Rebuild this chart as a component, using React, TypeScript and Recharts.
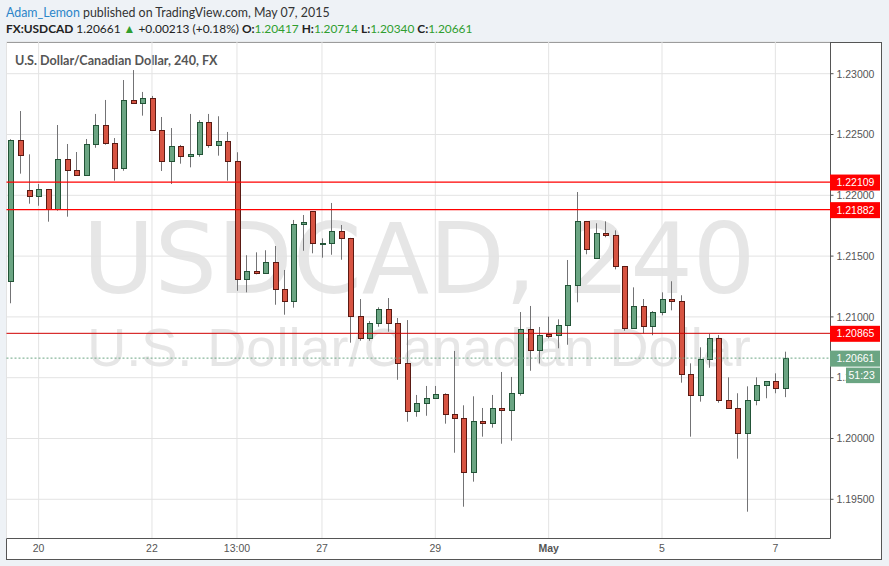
import React from 'react';
import { ComposedChart, Bar, XAxis, YAxis, CartesianGrid, ReferenceLine } from 'recharts';

// 4-hour USDCAD candles (Apr 17 – May 7, 2015)
const openP = [
  1.21295, 1.22452, 1.22044, 1.21992, 1.22049, 1.21885, 1.22296, 1.22206, 1.22164, 1.22419,
  1.22576, 1.22428, 1.22222, 1.22781, 1.22762, 1.22798, 1.22535, 1.22280, 1.22403, 1.22321,
  1.22337, 1.22600, 1.22411, 1.22444, 1.22280, 1.21309, 1.21375, 1.21359, 1.21449, 1.21227,
  1.21128, 1.21761, 1.21868, 1.21603, 1.21605, 1.21704, 1.21646, 1.21005, 1.20824, 1.20947,
  1.21062, 1.20947, 1.20618, 1.20224, 1.20289, 1.20331, 1.20363, 1.20199, 1.20166, 1.19722,
  1.20141, 1.20125, 1.20248, 1.20232, 1.20372, 1.20898, 1.20725, 1.20858, 1.20849, 1.20931,
  1.21260, 1.21786, 1.21482, 1.21687, 1.21671, 1.21416, 1.20906, 1.21087, 1.20923, 1.21038,
  1.21145, 1.21128, 1.20528, 1.20355, 1.20651, 1.20824, 1.20314, 1.20248, 1.20043, 1.20314,
  1.20437, 1.20470, 1.20417,
];
const highP = [
  1.22461, 1.22693, 1.22337, 1.22093, 1.22052, 1.22578, 1.22422, 1.22356, 1.22463, 1.22669,
  1.22784, 1.22471, 1.22948, 1.23030, 1.22850, 1.22817, 1.22644, 1.22553, 1.22414, 1.22669,
  1.22617, 1.22669, 1.22650, 1.22521, 1.22354, 1.21507, 1.21531, 1.21548, 1.21583, 1.21386,
  1.21797, 1.21838, 1.21870, 1.21646, 1.21937, 1.21756, 1.21650, 1.21147, 1.20966, 1.21079,
  1.21155, 1.20991, 1.20974, 1.20358, 1.20432, 1.20432, 1.20372, 1.20720, 1.20273, 1.20347,
  1.20251, 1.20358, 1.20547, 1.20506, 1.21040, 1.21090, 1.20917, 1.21002, 1.20980, 1.21468,
  1.22027, 1.21789, 1.21770, 1.21786, 1.21712, 1.21419, 1.21243, 1.21147, 1.21048, 1.21202,
  1.21293, 1.21178, 1.20618, 1.20750, 1.20859, 1.20851, 1.20503, 1.20372, 1.20429, 1.20503,
  1.20473, 1.20536, 1.20714,
];
const lowP = [
  1.21112, 1.22178, 1.21931, 1.21914, 1.21783, 1.21873, 1.21824, 1.22160, 1.22160, 1.22391,
  1.22416, 1.22120, 1.22202, 1.22760, 1.22655, 1.22530, 1.22200, 1.22093, 1.22260, 1.22230,
  1.22317, 1.22391, 1.22326, 1.22120, 1.21215, 1.21202, 1.21350, 1.21355, 1.21100, 1.21018,
  1.21076, 1.21544, 1.21523, 1.21487, 1.21511, 1.21470, 1.20788, 1.20804, 1.20804, 1.20919,
  1.20878, 1.20483, 1.20138, 1.20179, 1.20187, 1.20328, 1.20122, 1.19883, 1.19439, 1.19645,
  1.20015, 1.20089, 1.19957, 1.19982, 1.20352, 1.20557, 1.20617, 1.20824, 1.20742, 1.20771,
  1.21120, 1.21515, 1.21480, 1.21655, 1.21391, 1.20886, 1.20904, 1.20865, 1.20849, 1.21013,
  1.21054, 1.20459, 1.20015, 1.20303, 1.20582, 1.20294, 1.20246, 1.19834, 1.19398, 1.20273,
  1.20331, 1.20372, 1.20340,
];
const closeP = [
  1.22452, 1.22329, 1.21992, 1.22049, 1.21885, 1.22296, 1.22206, 1.22164, 1.22419, 1.22576,
  1.22428, 1.22222, 1.22781, 1.22762, 1.22798, 1.22535, 1.22280, 1.22403, 1.22321, 1.22337,
  1.22600, 1.22411, 1.22444, 1.22280, 1.21309, 1.21375, 1.21359, 1.21449, 1.21227, 1.21128,
  1.21761, 1.21778, 1.21605, 1.21608, 1.21704, 1.21646, 1.21005, 1.20824, 1.20947, 1.21062,
  1.20947, 1.20618, 1.20224, 1.20289, 1.20331, 1.20363, 1.20199, 1.20166, 1.19722, 1.20141,
  1.20125, 1.20248, 1.20232, 1.20372, 1.20898, 1.20725, 1.20849, 1.20845, 1.20931, 1.21260,
  1.21786, 1.21556, 1.21687, 1.21671, 1.21416, 1.20906, 1.21087, 1.20923, 1.21038, 1.21145,
  1.21128, 1.20528, 1.20355, 1.20651, 1.20824, 1.20314, 1.20248, 1.20043, 1.20314, 1.20437,
  1.20470, 1.20413, 1.20661,
];

const timeTickIndex = [3, 15, 24, 33, 45, 57, 69, 81];
const timeTickLabels = ['20', '22', '13:00', '27', '29', 'May', '5', '7'];
const boldTimeLabels = ['May'];
const priceTicks = [1.195, 1.2, 1.205, 1.21, 1.215, 1.22, 1.225, 1.23];
const redLevels = [1.22109, 1.21882];
const pivotLevel = 1.20865;
const lastPrice = 1.20661;
const countdown = '51:23';

const symbol = 'FX:USDCAD';
const lastText = '1.20661';
const changeText = '+0.00213 (+0.18%)';
const ohlcLabels = ['O:', 'H:', 'L:', 'C:'];
const ohlcValues = ['1.20417', '1.20714', '1.20340', '1.20661'];

const X_DOMAIN: [number, number] = [-0.4, 86.84];
const Y_DOMAIN: [number, number] = [1.191776, 1.232607];

const data = openP.map((o, i) => ({
  i,
  o,
  h: highP[i],
  l: lowP[i],
  c: closeP[i],
  range: [lowP[i], highP[i]],
}));

const AXIS_FONT = '"Liberation Sans", Arial, sans-serif';
const UI_FONT = 'Lato, "Open Sans", sans-serif';

const Candle = (props: any) => {
  const { x, y, width, height, payload } = props;
  if (x == null || y == null || !payload) return null;
  const top = Math.min(y, y + height);
  const hh = Math.abs(height);
  const { o, h, l, c } = payload;
  const cx = Math.round(x + width / 2 - 0.5) + 0.5;
  const py = (v: number) => (h === l ? top : top + ((h - v) / (h - l)) * hh);
  const yo = py(o);
  const yc = py(c);
  const up = c >= o;
  const bt = Math.round(Math.min(yo, yc)) + 0.5;
  let bb = Math.round(Math.max(yo, yc)) + 0.5;
  if (bb - bt < 1) bb = bt + 1;
  return (
    <g>
      <line x1={cx} x2={cx} y1={top} y2={top + hh} stroke="#737375" strokeWidth={1} />
      <rect
        x={cx - 2}
        y={bt}
        width={5}
        height={bb - bt}
        fill={up ? '#6ba583' : '#d75442'}
        stroke={up ? '#225437' : '#5b1a13'}
        strokeWidth={1}
      />
    </g>
  );
};

const XTick = (props: any) => {
  const { x, y, payload } = props;
  const idx = timeTickIndex.indexOf(payload.value);
  const label = idx >= 0 ? timeTickLabels[idx] : '';
  const bold = boldTimeLabels.includes(label);
  return (
    <text
      x={x}
      y={y + 11.5}
      textAnchor="middle"
      fontFamily={AXIS_FONT}
      fontSize={10.5}
      fontWeight={bold ? 'bold' : 'normal'}
      fill="#555"
    >
      {label}
    </text>
  );
};

const YTick = (props: any) => {
  const { x, y, payload } = props;
  return (
    <text x={x} y={y + 3.8} textAnchor="start" fontFamily={AXIS_FONT} fontSize={10.5} fill="#555">
      {Number(payload.value).toFixed(5)}
    </text>
  );
};

const PriceTag = ({ viewBox, value, bg, extra }: any) => {
  if (!viewBox) return null;
  const right = viewBox.x + viewBox.width;
  const ly = viewBox.y;
  return (
    <g>
      <rect x={right - 0.5} y={ly - 7.5} width={50} height={16} fill={bg} />
      <text x={right + 6} y={ly + 3.9} fontFamily={AXIS_FONT} fontSize={10.5} fill="#ffffff">
        {value.toFixed(5)}
      </text>
      {extra ? (
        <g>
          <rect x={right + 15.5} y={ly + 9.5} width={34} height={15.5} fill={bg} />
          <text x={right + 18} y={ly + 21} fontFamily={AXIS_FONT} fontSize={10.5} fill="#ffffff">
            {extra}
          </text>
        </g>
      ) : null}
    </g>
  );
};

export default function App() {
  const green = '#2f9e2f';
  return (
    <div
      style={{
        position: 'fixed',
        left: 0,
        top: 0,
        width: 889,
        height: 566,
        background: '#eef2f6',
        overflow: 'hidden',
      }}
    >
      <svg width={889} height={42} style={{ position: 'absolute', left: 0, top: 0 }}>
        <text x={6} y={16.7} fontFamily={UI_FONT} fontSize={12.4} fill="#333" style={{ whiteSpace: 'pre' }}>
          <tspan fill="#2b85c9">Adam_Lemon</tspan>
          <tspan>{' published on TradingView.com, May 07, 2015'}</tspan>
        </text>
        <text x={6} y={33.3} fontFamily={UI_FONT} fontSize={11.9} fill="#222" style={{ whiteSpace: 'pre' }}>
          <tspan fontWeight="bold">{symbol}</tspan>
          <tspan>{' ' + lastText + ' '}</tspan>
          <tspan fill={green}>▲</tspan>
          <tspan>{' ' + changeText + ' '}</tspan>
          {ohlcLabels.map((lab, k) => (
            <React.Fragment key={lab}>
              <tspan fontWeight="bold">{(k > 0 ? ' ' : '') + lab}</tspan>
              <tspan fill={green}>{ohlcValues[k]}</tspan>
            </React.Fragment>
          ))}
        </text>
      </svg>

      <div
        style={{
          position: 'absolute',
          left: 6,
          top: 42,
          width: 876,
          height: 518,
          boxSizing: 'border-box',
          border: '1px solid #555',
          background: '#ffffff',
        }}
      />

      <svg width={889} height={566} style={{ position: 'absolute', left: 0, top: 0 }}>
        <text
          x={419}
          y={293}
          textAnchor="middle"
          fontFamily='"DejaVu Sans", sans-serif'
          fontSize={98.5}
          fill="#e6e6e6"
        >
          USDCAD, 240
        </text>
        <text x={419} y={365.5} textAnchor="middle" fontFamily={AXIS_FONT} fontSize={54} fill="#e6e6e6">
          U.S. Dollar/Canadian Dollar
        </text>
        <text x={15} y={65} fontFamily={UI_FONT} fontSize={12.6} fontWeight="bold" fill="#555">
          U.S. Dollar/Canadian Dollar, 240, FX
        </text>
      </svg>

      {/* main chart: grid, axes, candles */}
      <div style={{ position: 'absolute', left: 0, top: 0 }}>
        <ComposedChart width={889} height={566} data={data} margin={{ top: 42, left: 6.5, right: 0, bottom: 0 }}>
          <CartesianGrid stroke="#e3e3e3" strokeWidth={1} />
          <XAxis
            type="number"
            dataKey="i"
            domain={X_DOMAIN}
            allowDataOverflow
            ticks={timeTickIndex}
            interval={0}
            tick={<XTick />}
            tickLine={false}
            tickSize={0}
            axisLine={{ stroke: '#555' }}
            height={27.5}
          />
          <YAxis
            orientation="right"
            type="number"
            domain={Y_DOMAIN}
            allowDataOverflow
            ticks={priceTicks}
            interval={0}
            width={58.5}
            tick={<YTick />}
            tickLine={{ stroke: '#555' }}
            tickSize={3}
            tickMargin={3}
            axisLine={{ stroke: '#555' }}
          />
          <Bar dataKey="range" barSize={6} isAnimationActive={false} shape={(p: any) => <Candle {...p} />} />
        </ComposedChart>
      </div>

      {/* overlay with the same scales: horizontal levels and their price tags on top */}
      <div style={{ position: 'absolute', left: 0, top: 0 }}>
        <ComposedChart
          width={889}
          height={566}
          data={data}
          margin={{ top: 42, left: 6.5, right: 58.5, bottom: 27.5 }}
        >
          <XAxis type="number" dataKey="i" domain={X_DOMAIN} allowDataOverflow hide />
          <YAxis type="number" domain={Y_DOMAIN} allowDataOverflow hide />
          {redLevels.map((lv) => (
            <ReferenceLine
              key={lv}
              y={lv}
              stroke="#ff0000"
              strokeWidth={1.3}
              label={(p: any) => <PriceTag viewBox={p.viewBox} value={lv} bg="#ff0000" />}
            />
          ))}
          <ReferenceLine
            y={pivotLevel}
            stroke="#d00000"
            strokeWidth={1}
            label={(p: any) => <PriceTag viewBox={p.viewBox} value={pivotLevel} bg="#ff0000" />}
          />
          <ReferenceLine
            y={lastPrice}
            stroke="#6ba583"
            strokeWidth={1}
            strokeDasharray="2 2"
            label={(p: any) => (
              <PriceTag viewBox={p.viewBox} value={lastPrice} bg="#6ba583" extra={countdown} />
            )}
          />
        </ComposedChart>
      </div>
    </div>
  );
}
